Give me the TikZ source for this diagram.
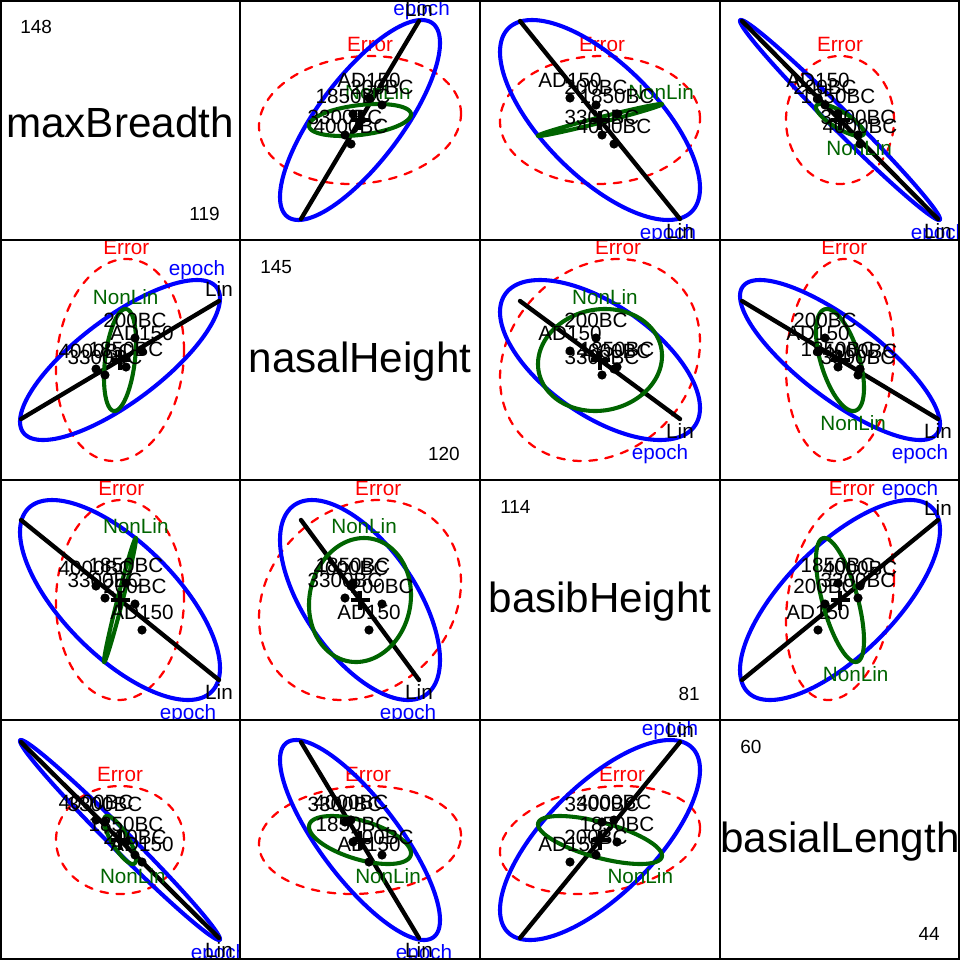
\documentclass[tikz,border=0pt]{standalone}
\usepackage{fontspec}
\setmainfont{Liberation Sans}
\definecolor{hered}{RGB}{255,0,0}
\definecolor{heblue}{RGB}{0,0,255}
\definecolor{hegreen}{RGB}{0,100,0}
% group positions (x-pixel when the variable is on the x axis)
% order: 4000BC, 3300BC, 1850BC, 200BC, AD150
\def\pA{{96,105,126,135,142}}   % maxBreadth
\def\pB{{111,105,113,142,129}}  % nasalHeight
\def\pC{{134,122,137,116,90}}   % basibHeight
\def\pD{{140,138,118,105,98}}   % basialLength
\tikzset{
  lab/.style={font=\fontsize{14.7}{17}\selectfont, inner sep=0pt, anchor=base},
  numlab/.style={font=\fontsize{13.5}{16}\selectfont, inner sep=0pt},
  diaglab/.style={font=\fontsize{30}{36}\selectfont, inner sep=0pt, anchor=base},
  errS/.style={draw=hered, line width=1.6pt, dash pattern=on 5.5pt off 6pt, line cap=round},
  epS/.style={draw=heblue, line width=2.9pt},
  nlS/.style={draw=hegreen, line width=2.9pt},
  linS/.style={draw=black, line width=3.1pt, line cap=round},
  frameS/.style={draw=black, line width=1.4pt},
}
% ellipse: #1 style, #2 Rx, #3 Ry, #4 r, #5 label, #6 colour, #7 name
\newcommand\heell[7]{%
  \pgfmathsetmacro\hes{sqrt(1-(#4)*(#4))}%
  \draw[#1] plot[domain=0:360, samples=145, variable=\hang]
    ({120+(#2)*cos(\hang)}, {120-(#3)*((#4)*cos(\hang)+\hes*sin(\hang))}) -- cycle;
  \ifdim #4pt<0pt
    \node[lab, text=#6] (\pid-#7) at ({120-(#4)*(#2)}, {120+(#3)+19.4}) {#5};
  \else
    \node[lab, text=#6] (\pid-#7) at ({120+(#4)*(#2)}, {120-(#3)-4.6}) {#5};
  \fi
}
% degenerate (1 df) hypothesis: #1 hx, #2 hy (y up)
\newcommand\helin[2]{%
  \coordinate (\pid-L1) at ({120-(#1)},{120+(#2)});
  \coordinate (\pid-L2) at ({120+(#1)},{120-(#2)});
  \draw[linS] (\pid-L1) -- (\pid-L2);
  \pgfmathsetmacro\hepr{(#1)*(#2)}%
  \pgfmathsetmacro\hesy{(#2)<0 ? -1 : 1}%
  \ifdim \hepr pt<0pt
    \node[lab] (\pid-Lin) at ({120-(\hesy)*(#1)},{120+abs(#2)+19.4}) {Lin};
  \else
    \node[lab] (\pid-Lin) at ({120+(\hesy)*(#1)},{120-abs(#2)-4.6}) {Lin};
  \fi
}
\newcommand\hedots[2]{%
  \foreach \g/\glab in {0/4000BC,1/3300BC,2/1850BC,3/200BC,4/AD150}{%
    \pgfmathsetmacro\gx{#1[\g]}%
    \pgfmathsetmacro\gy{240-#2[\g]}%
    \fill (\gx,\gy) circle[radius=4.6];
    \node[lab] (\pid-g\g) at (\gx,\gy-10.6) {\glab};
  }%
}
\newcommand\heplus{\draw[line width=2.3pt] (110.5,120) -- (129.5,120) (120,110.5) -- (120,129.5);}
\newcommand\hepanel[4]{\begin{scope}[shift={(#1,#2)}]\def\pid{#3}\clip (0,0) rectangle (240,240); #4 \end{scope}}
% diagonal: ox oy baseline name max min id
\newcommand\hediag[7]{%
  \begin{scope}[shift={(#1,#2)}]
    \node[diaglab] (#7-name) at (120,#3) {#4};
    \node[numlab, anchor=base west] (#7-max) at (20,33.8) {#5};
    \node[numlab, anchor=base east] (#7-min) at (220,220.8) {#6};
  \end{scope}}
\begin{document}
\begin{tikzpicture}[x=0.025cm, y=-0.025cm]
\useasboundingbox (0,0) rectangle (960,960);
\fill[white] (0,0) rectangle (960,960);
% diagonal panels
\hediag{0}{0}{137}{maxBreadth}{148}{119}{d1}
\hediag{240}{240}{132}{nasalHeight}{145}{120}{d2}
\hediag{480}{480}{132}{basibHeight}{114}{81}{d3}
\hediag{720}{720}{132}{basialLength}{60}{44}{d4}
% upper panels
\hepanel{240}{0}{p12}{%
  \heell{errS}{101}{64}{0.1}{Error}{hered}{E}
  \heell{epS}{80}{100}{0.77}{epoch}{heblue}{ep}
  \helin{59}{99}
  \heell{nlS}{51}{16}{0.35}{NonLin}{hegreen}{NL}
  \hedots{\pB}{\pA}\heplus}
\hepanel{480}{0}{p13}{%
  \heell{errS}{100}{64}{0.02}{Error}{hered}{E}
  \heell{epS}{100}{100}{-0.68}{epoch}{heblue}{ep}
  \helin{-80}{99}
  \heell{nlS}{62}{16}{0.985}{NonLin}{hegreen}{NL}
  \hedots{\pC}{\pA}\heplus}
\hepanel{720}{0}{p14}{%
  \heell{errS}{54}{64}{0}{Error}{hered}{E}
  \heell{epS}{100}{100}{-0.99}{epoch}{heblue}{ep}
  \helin{-98}{99}
  \heell{nlS}{24}{16}{-0.8}{NonLin}{hegreen}{NL}
  \hedots{\pD}{\pA}\heplus}
\hepanel{480}{240}{p23}{%
  \heell{errS}{100}{101}{0.18}{Error}{hered}{E}
  \heell{epS}{100}{80}{-0.6}{epoch}{heblue}{ep}
  \helin{-80}{59}
  \heell{nlS}{62}{51}{0.08}{NonLin}{hegreen}{NL}
  \hedots{\pC}{\pB}\heplus}
\hepanel{720}{240}{p24}{%
  \heell{errS}{54}{101}{0.08}{Error}{hered}{E}
  \heell{epS}{100}{80}{-0.8}{epoch}{heblue}{ep}
  \helin{-98}{59}
  \heell{nlS}{24}{51}{-0.55}{NonLin}{hegreen}{NL}
  \hedots{\pD}{\pB}\heplus}
\hepanel{720}{480}{p34}{%
  \heell{errS}{54}{100}{0.22}{Error}{hered}{E}
  \heell{epS}{100}{100}{0.7}{epoch}{heblue}{ep}
  \helin{-98}{-80}
  \heell{nlS}{24}{62}{-0.65}{NonLin}{hegreen}{NL}
  \hedots{\pD}{\pC}\heplus}
% lower panels
\hepanel{0}{240}{p21}{%
  \heell{errS}{64}{101}{0.1}{Error}{hered}{E}
  \heell{epS}{100}{80}{0.77}{epoch}{heblue}{ep}
  \helin{99}{59}
  \heell{nlS}{16}{51}{0.35}{NonLin}{hegreen}{NL}
  \hedots{\pA}{\pB}\heplus}
\hepanel{0}{480}{p31}{%
  \heell{errS}{64}{100}{0.02}{Error}{hered}{E}
  \heell{epS}{100}{100}{-0.68}{epoch}{heblue}{ep}
  \helin{99}{-80}
  \heell{nlS}{16}{62}{0.985}{NonLin}{hegreen}{NL}
  \hedots{\pA}{\pC}\heplus}
\hepanel{0}{720}{p41}{%
  \heell{errS}{64}{54}{0}{Error}{hered}{E}
  \heell{epS}{100}{100}{-0.99}{epoch}{heblue}{ep}
  \helin{99}{-98}
  \heell{nlS}{16}{24}{-0.8}{NonLin}{hegreen}{NL}
  \hedots{\pA}{\pD}\heplus}
\hepanel{240}{480}{p32}{%
  \heell{errS}{101}{100}{0.18}{Error}{hered}{E}
  \heell{epS}{80}{100}{-0.6}{epoch}{heblue}{ep}
  \helin{59}{-80}
  \heell{nlS}{51}{62}{0.08}{NonLin}{hegreen}{NL}
  \hedots{\pB}{\pC}\heplus}
\hepanel{240}{720}{p42}{%
  \heell{errS}{101}{54}{0.08}{Error}{hered}{E}
  \heell{epS}{80}{100}{-0.8}{epoch}{heblue}{ep}
  \helin{59}{-98}
  \heell{nlS}{51}{24}{-0.55}{NonLin}{hegreen}{NL}
  \hedots{\pB}{\pD}\heplus}
\hepanel{480}{720}{p43}{%
  \heell{errS}{100}{54}{0.22}{Error}{hered}{E}
  \heell{epS}{100}{100}{0.7}{epoch}{heblue}{ep}
  \helin{-80}{-98}
  \heell{nlS}{62}{24}{-0.65}{NonLin}{hegreen}{NL}
  \hedots{\pC}{\pD}\heplus}
% panel frames
\draw[frameS] (0.7,0.7) rectangle (959.3,959.3);
\foreach \k in {240,480,720}{
  \draw[frameS] (\k,0) -- (\k,960);
  \draw[frameS] (0,\k) -- (960,\k);
}
\end{tikzpicture}
\end{document}
